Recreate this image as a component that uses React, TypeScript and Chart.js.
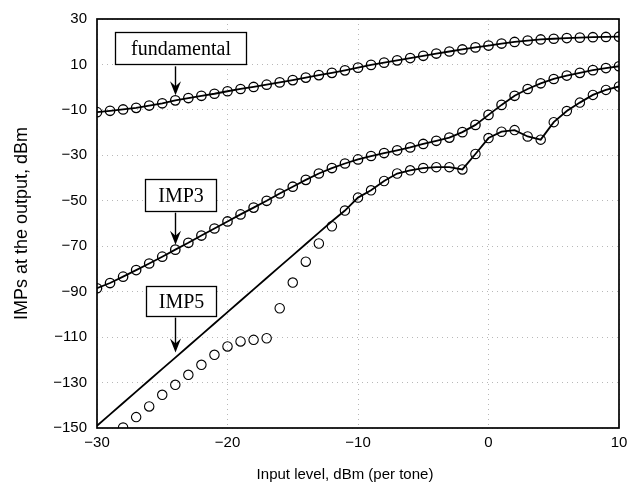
import React, { useEffect, useRef } from 'react';
import { Chart, registerables } from 'chart.js';

Chart.register(...registerables);

// ---- data ----
const inputLevels = [
  -30, -29, -28, -27, -26, -25, -24, -23, -22, -21, -20, -19, -18, -17, -16, -15, -14, -13, -12, -11,
  -10, -9, -8, -7, -6, -5, -4, -3, -2, -1, 0, 1, 2, 3, 4, 5, 6, 7, 8, 9, 10,
];

const fundamental = [
  -11.0, -10.4, -9.8, -9.1, -8.1, -7.1, -5.8, -4.8, -3.8, -2.9, -1.8, -0.8, 0.1, 1.1, 2.1, 3.1, 4.2, 5.3, 6.3, 7.4,
  8.6, 9.8, 10.8, 11.8, 12.8, 13.8, 14.8, 15.7, 16.6, 17.5, 18.3, 19.2, 19.9, 20.5, 21.0, 21.3, 21.6, 21.8, 22.0, 22.1, 22.2,
];

const imp3 = [
  -88.5, -86.2, -83.4, -80.5, -77.6, -74.6, -71.5, -68.5, -65.3, -62.2, -59.1, -56.0, -53.0, -50.0, -46.8, -43.8, -40.8, -38.0, -35.6, -33.6,
  -31.8, -30.3, -29.0, -27.8, -26.5, -25.0, -23.6, -22.2, -19.8, -16.6, -12.2, -7.8, -3.8, -0.8, 1.7, 3.6, 5.1, 6.3, 7.5, 8.4, 9.2,
];

const imp5Model = [
  -149, -144, -139, -134, -129, -124, -119, -114, -109, -104, -99, -94, -89, -84, -79, -74, -69, -64, -59, -54.3,
  -48.6, -45.4, -41.3, -38.0, -36.6, -35.6, -35.2, -35.2, -36.2, -29.4, -22.4, -19.6, -18.9, -21.7, -23.1, -15.4, -10.5, -6.8, -3.4, -1.2, 0.3,
];

const imp5Measured = [
  null, null, -149.8, -145.2, -140.5, -135.4, -131.0, -126.6, -122.2, -117.8, -114.1, -111.9, -111.2, -110.5, -97.3, -86.0, -76.8, -68.8, -61.2, -54.3,
  -48.6, -45.4, -41.3, -38.0, -36.6, -35.6, -35.2, -35.2, -36.2, -29.4, -22.4, -19.6, -18.9, -21.7, -23.1, -15.4, -10.5, -6.8, -3.4, -1.2, 0.3,
];

const xTicks = [-30, -20, -10, 0, 10];
const yTicks = [-150, -130, -110, -90, -70, -50, -30, -10, 10, 30];

const xTitle = 'Input level, dBm (per tone)';
const yTitle = 'IMPs at the output, dBm';

const labelAt = -24;
const callouts = [
  { text: 'fundamental', series: fundamental },
  { text: 'IMP3', series: imp3 },
  { text: 'IMP5', series: imp5Model },
];
// callout styling (pixels)
const calloutStyle = [
  { boxW: 131, boxH: 32, len: 29 },
  { boxW: 71, boxH: 32, len: 32 },
  { boxW: 70, boxH: 30, len: 35 },
];

const W = 639;
const H = 487;
const SANS = '"Liberation Sans", Arial, sans-serif';

const toPts = (vals: (number | null)[]) => inputLevels.map((x, i) => ({ x, y: vals[i] }));
const fmt = (v: number) => (v < 0 ? '\u2212' + Math.abs(v) : String(v));

const overlayPlugin = {
  id: 'overlay',
  afterDatasetsDraw(chart: any) {
    const { ctx, chartArea, scales } = chart;
    const xs = scales.x;
    const ys = scales.y;
    ctx.save();
    // frame
    ctx.strokeStyle = '#000';
    ctx.lineWidth = 1.7;
    ctx.strokeRect(chartArea.left, chartArea.top, chartArea.right - chartArea.left, chartArea.bottom - chartArea.top);

    const idx = inputLevels.indexOf(labelAt);
    callouts.forEach((c, k) => {
      const st = calloutStyle[k];
      const px = Math.round(xs.getPixelForValue(labelAt)) + 0.5;
      const py = ys.getPixelForValue(c.series[idx] as number) - 5;
      const boxBottom = py - st.len;
      const boxTop = boxBottom - st.boxH;
      const cx = px + 5;
      // arrow shaft
      ctx.strokeStyle = '#000';
      ctx.lineWidth = 1.4;
      ctx.beginPath();
      ctx.moveTo(px, boxBottom);
      ctx.lineTo(px, py - 8);
      ctx.stroke();
      // arrow head
      ctx.fillStyle = '#000';
      ctx.beginPath();
      ctx.moveTo(px, py);
      ctx.lineTo(px - 5.5, py - 14);
      ctx.lineTo(px, py - 9);
      ctx.lineTo(px + 5.5, py - 14);
      ctx.closePath();
      ctx.fill();
      // box
      const bx = Math.round(cx - st.boxW / 2) + 0.5;
      const by = Math.round(boxTop - 2) + 0.5;
      ctx.fillStyle = '#fff';
      ctx.fillRect(bx, by, st.boxW, st.boxH);
      ctx.lineWidth = 1.3;
      ctx.strokeRect(bx, by, st.boxW, st.boxH);
      ctx.fillStyle = '#000';
      ctx.font = '20px "Liberation Serif", "Times New Roman", serif';
      ctx.textAlign = 'center';
      ctx.textBaseline = 'middle';
      ctx.fillText(c.text, bx + st.boxW / 2, by + st.boxH / 2 + 1);
    });

    // x-axis title
    ctx.font = '15px ' + SANS;
    ctx.fillStyle = '#000';
    ctx.textAlign = 'center';
    ctx.textBaseline = 'middle';
    ctx.fillText(xTitle, (chartArea.left + chartArea.right) / 2 - 13, 475);
    ctx.restore();
  },
};

export default function App() {
  const ref = useRef<HTMLCanvasElement | null>(null);

  useEffect(() => {
    if (!ref.current) return;
    const tickFont = { family: SANS, size: 15 };
    const pointCommon = {
      pointStyle: 'circle',
      pointRadius: 4.7,
      pointBorderWidth: 1.3,
      pointBackgroundColor: 'rgba(0,0,0,0)',
      pointBorderColor: '#000',
    };
    const chart = new Chart(ref.current, {
      type: 'line',
      data: {
        datasets: [
          {
            label: 'fundamental',
            data: toPts(fundamental),
            borderColor: '#000',
            borderWidth: 1.8,
            ...pointCommon,
          },
          {
            label: 'IMP3',
            data: toPts(imp3),
            borderColor: '#000',
            borderWidth: 1.8,
            ...pointCommon,
          },
          {
            label: 'IMP5 model',
            data: toPts(imp5Model),
            borderColor: '#000',
            borderWidth: 1.8,
            pointRadius: 0,
          },
          {
            label: 'IMP5 measured',
            data: toPts(imp5Measured),
            showLine: false,
            ...pointCommon,
            pointBorderWidth: 1.1,
          },
        ],
      } as any,
      options: {
        responsive: false,
        animation: false,
        events: [],
        layout: { padding: { left: 0, top: 16, right: 20, bottom: 0 } },
        plugins: {
          legend: { display: false },
          tooltip: { enabled: false },
        },
        scales: {
          x: {
            type: 'linear',
            min: -30,
            max: 10,
            afterBuildTicks: (s: any) => {
              s.ticks = xTicks.map((v) => ({ value: v }));
            },
            afterFit: (s: any) => {
              s.height = 59;
            },
            ticks: {
              color: '#000',
              font: tickFont,
              padding: 6,
              maxRotation: 0,
              callback: (v: any) => fmt(Number(v)),
            },
            grid: { color: '#b8b8b8', lineWidth: 1, drawTicks: false },
            border: { display: false, dash: [1, 4] },
            title: { display: false, text: xTitle },
          },
          y: {
            type: 'linear',
            min: -150,
            max: 30,
            afterBuildTicks: (s: any) => {
              s.ticks = yTicks.map((v) => ({ value: v }));
            },
            afterFit: (s: any) => {
              s.width = 97;
            },
            ticks: {
              color: '#000',
              font: tickFont,
              padding: 10,
              callback: (v: any) => fmt(Number(v)),
            },
            grid: { color: '#b8b8b8', lineWidth: 1, drawTicks: false },
            border: { display: false, dash: [1, 4] },
            title: {
              display: true,
              text: yTitle,
              color: '#000',
              font: { family: SANS, size: 18 },
              padding: { top: 11, bottom: 0 },
            },
          },
        },
      } as any,
      plugins: [overlayPlugin],
    });
    return () => chart.destroy();
  }, []);

  return (
    <div style={{ position: 'fixed', left: 0, top: 0, width: W, height: H, background: '#fff' }}>
      <canvas ref={ref} width={W} height={H} style={{ display: 'block', width: W, height: H }} />
    </div>
  );
}
